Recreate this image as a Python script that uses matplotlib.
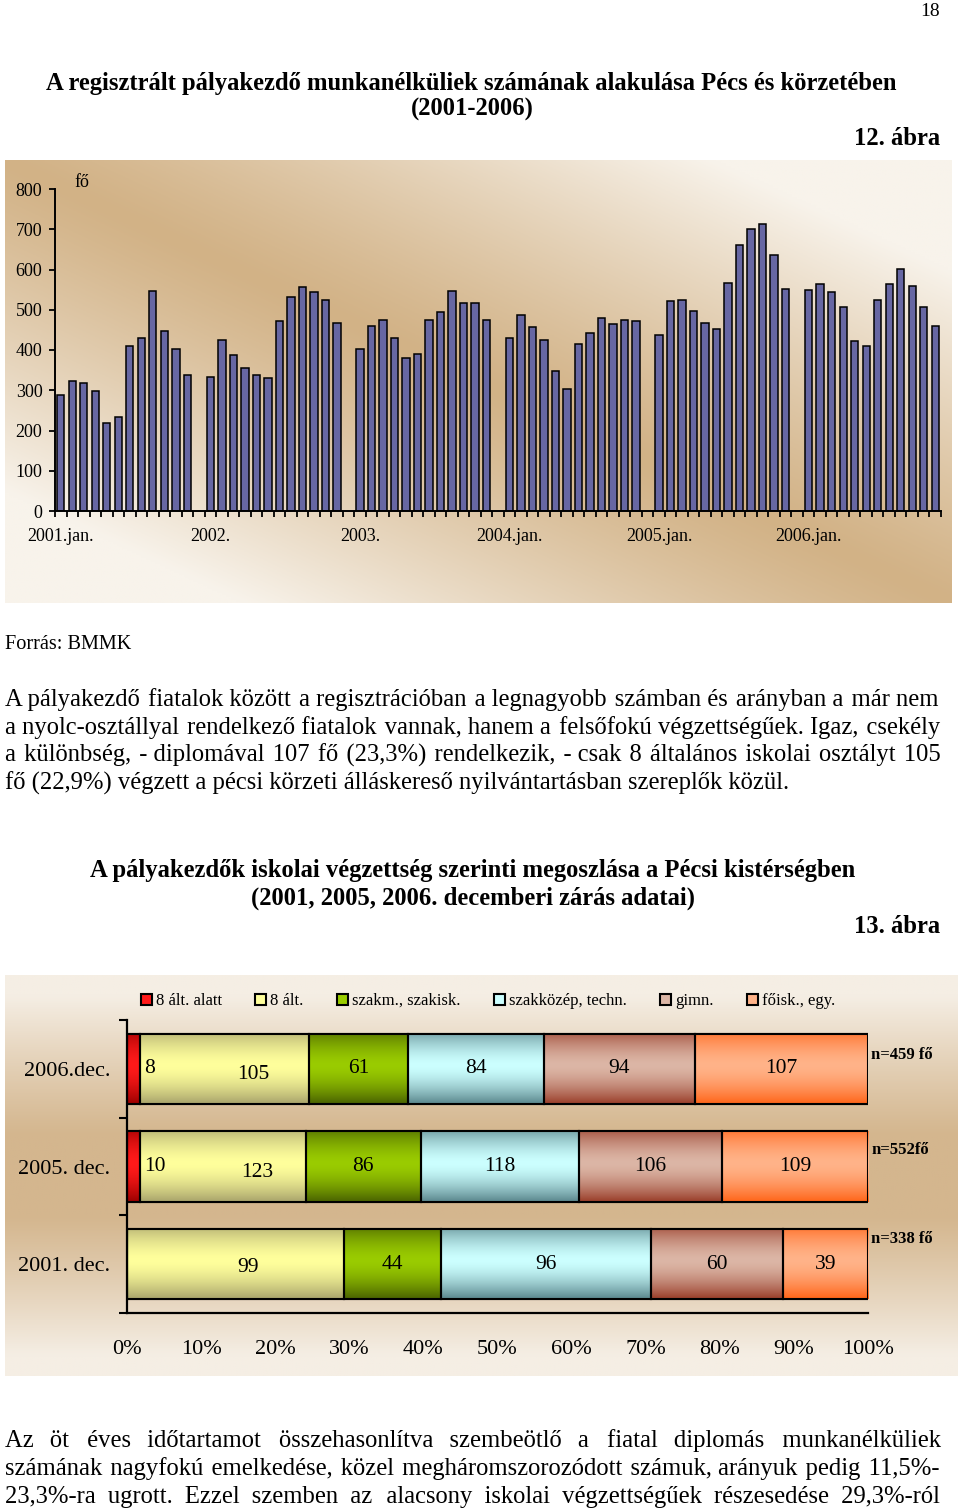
import numpy as np
import matplotlib
matplotlib.use('Agg')
import matplotlib.pyplot as plt
from matplotlib.colors import to_rgb

W, H = 960, 1510
plt.rcParams['font.family'] = ['Liberation Serif', 'DejaVu Serif']

# 12. abra - registered young unemployed per month (fo)
v2001 = [287, 322, 318, 299, 219, 234, 410, 429, 547, 448, 402, 338]
v2002 = [334, 425, 387, 356, 337, 330, 471, 532, 556, 544, 524, 467]
v2003 = [402, 460, 475, 429, 379, 391, 475, 494, 547, 517, 517, 474]
v2004 = [429, 487, 456, 425, 349, 302, 414, 441, 479, 464, 475, 471]
v2005 = [437, 521, 524, 498, 467, 452, 567, 662, 701, 713, 636, 552]
v2006 = [548, 563, 544, 506, 422, 410, 524, 563, 602, 559, 506, 459]
monthly = [v2001, v2002, v2003, v2004, v2005, v2006]
year_labels = ['2001.jan.', '2002.', '2003.', '2004.jan.', '2005.jan.', '2006.jan.']
y_ticks = list(range(0, 801, 100))

# 13. abra - education level of young job seekers (december)
rows = ['2006.dec.', '2005. dec.', '2001. dec.']
groups = ['8 ált. alatt', '8 ált.', 'szakm., szakisk.', 'szakközép, techn.', 'gimn.', 'főisk., egy.']
alatt8 = [8, 10, 0]
alt8 = [105, 123, 99]
szakm = [61, 86, 44]
szakkozep = [84, 118, 96]
gimn = [94, 106, 60]
foisk = [107, 109, 39]
n_labels = ['n=459 fő', 'n=552fő', 'n=338 fő']
pct_ticks = list(range(0, 101, 10))

light = ['#ff1a1a', '#ffff9c', '#9acc00', '#ccffff', '#dcb6a6', '#ffb389']
dark = ['#9c0000', '#a9a46c', '#4a6300', '#5b878d', '#9a3e2a', '#ff6519']

par1 = ["A pályakezdő fiatalok között a regisztrációban a legnagyobb számban és arányban a már nem",
        "a nyolc-osztállyal rendelkező fiatalok vannak, hanem a felsőfokú végzettségűek. Igaz, csekély",
        "a különbség, - diplomával 107 fő (23,3%) rendelkezik, - csak 8 általános iskolai  osztályt 105",
        "fő (22,9%) végzett a pécsi körzeti álláskereső nyilvántartásban szereplők közül."]
par2 = ["Az öt éves időtartamot összehasonlítva szembeötlő a fiatal diplomás munkanélküliek",
        "számának nagyfokú emelkedése, közel megháromszorozódott számuk, arányuk pedig 11,5%-",
        "23,3%-ra ugrott. Ezzel szemben az alacsony iskolai végzettségűek részesedése 29,3%-ról"]

fig = plt.figure(figsize=(W / 100, H / 100), dpi=100)
fig.patch.set_facecolor('white')
renderer = fig.canvas.get_renderer()


def box(l, t, r, b):
    return [l / W, 1 - b / H, (r - l) / W, (b - t) / H]


def put(x, y, s, **kw):
    return fig.text(x / W, 1 - y / H, s, **kw)


def width_of(s, **kw):
    t = fig.text(0, 0, s, **kw)
    w = t.get_window_extent(renderer).width
    t.remove()
    return w


def fit_size(s, target, **kw):
    return 10 * target / width_of(s, fontsize=10, **kw)


def justify(y, line, fs, x0=5, x1=940, last=False):
    # one text per line; the gaps are widened with hair spaces
    words = line.split()
    if last:
        put(x0, y, ' '.join(words), fontsize=fs, va='baseline')
        return
    hair = '\u200a'
    sp = width_of('a a', fontsize=fs) - width_of('aa', fontsize=fs)
    hs = (width_of('a' + hair * 20 + 'a', fontsize=fs) - width_of('aa', fontsize=fs)) / 20
    gap = (x1 - x0 - width_of(''.join(words), fontsize=fs)) / (len(words) - 1)
    s, acc = words[0], 0.0
    for w in words[1:]:
        acc += gap - sp
        k = max(0, int(round(acc / hs)))
        acc -= k * hs
        s += ' ' + hair * k + w
    put(x0, y, s, fontsize=fs, va='baseline')


def mix(c0, c1, g):
    c0 = np.array(to_rgb(c0))
    c1 = np.array(to_rgb(c1))
    return np.clip(c0 + (c1 - c0) * g[..., None], 0, 1)


# ---- texts
put(940, 16, '18', ha='right', va='baseline', fontsize=14)
t1 = "A regisztrált pályakezdő munkanélküliek számának alakulása Pécs és körzetében"
fs_t = fit_size(t1, 857, fontweight='bold')
put(471, 90, t1, ha='center', va='baseline', fontsize=fs_t, fontweight='bold')
put(472, 116, '(2001-2006)', ha='center', va='baseline', fontsize=fs_t, fontweight='bold')
put(940, 145, '12. ábra', ha='right', va='baseline', fontsize=fs_t, fontweight='bold')

fs_b = fit_size(par1[-1], 787)
put(5, 649, 'Forrás: BMMK', va='baseline', fontsize=fit_size('Forrás: BMMK', 127))
for i, line in enumerate(par1):
    justify(706 + 28 * i, line, fs_b, last=(i == len(par1) - 1))

t2 = "A pályakezdők iskolai végzettség szerinti megoszlása a Pécsi kistérségben"
fs_t2 = fit_size(t2, 770, fontweight='bold')
put(473, 877, t2, ha='center', va='baseline', fontsize=fs_t2, fontweight='bold')
put(473, 905, '(2001, 2005, 2006. decemberi zárás adatai)', ha='center', va='baseline',
    fontsize=fs_t2, fontweight='bold')
put(940, 933, '13. ábra', ha='right', va='baseline', fontsize=fs_t2, fontweight='bold')

for i, line in enumerate(par2):
    justify(1447 + 28 * i, line, fs_b)

# ---- chart 1 background
bg1 = fig.add_axes(box(5, 160, 951, 603), zorder=0)
xn, yn = np.meshgrid(np.linspace(0, 1, 400), np.linspace(0, 1, 200))
g = np.clip(np.abs(xn - yn) / 0.75, 0, 1) ** 1.2
bg1.imshow(mix('#d2b286', '#f8f3eb', g), aspect='auto', extent=(0, 1, 0, 1))
bg1.axis('off')

ax1 = fig.add_axes(box(55, 189, 941, 511), zorder=2)
ax1.patch.set_alpha(0)
for i, vals in enumerate(monthly):
    xs = np.arange(len(vals)) + 13 * i
    ax1.bar(xs, vals, width=0.64, color='#6767a3', edgecolor='black', linewidth=1.1)
ax1.set_xlim(-0.5, 76.5)
ax1.set_ylim(0, 800)
ax1.set_yticks(y_ticks)
ax1.set_xticks([13 * i for i in range(len(year_labels))], year_labels)
ax1.set_xticks(np.arange(-0.5, 77, 1), minor=True)
ax1.tick_params(axis='x', which='major', length=0, pad=12, labelsize=13)
ax1.tick_params(axis='x', which='minor', length=4, width=1.3)
ax1.tick_params(axis='y', length=4, width=1.3, pad=5, labelsize=13)
for s in ['top', 'right']:
    ax1.spines[s].set_visible(False)
for s in ['left', 'bottom']:
    ax1.spines[s].set_linewidth(1.4)
put(74, 187, 'fő', va='baseline', fontsize=13)

# ---- chart 2 background
bg2 = fig.add_axes(box(5, 975, 957, 1376), zorder=0)
xn, yn = np.meshgrid(np.linspace(0, 1, 400), np.linspace(0, 1, 200))
g = np.clip((np.abs(yn - 0.5) - 0.1) / 0.35, 0, 1) ** 1.1
bg2.imshow(mix('#d4b68e', '#f5eee4', g), aspect='auto', extent=(0, 1, 0, 1))
bg2.axis('off')

ax2 = fig.add_axes(box(127, 1020, 868, 1313), zorder=2)
ax2.patch.set_alpha(0)
counts = np.array([alatt8, alt8, szakm, szakkozep, gimn, foisk], float)
pct = counts / counts.sum(axis=0) * 100
yy = np.arange(len(rows))
hgt = 0.72
tt = np.linspace(0, 1, 64)
prof = 1 - np.clip(np.abs(tt - 0.45) / 0.55, 0, 1) ** 1.6
alt8_shift = [(29, 6), (34, 6), (12, 3)]
n_dy = [21, 19, 10]

left = np.zeros(len(rows))
for k in range(len(groups)):
    ax2.barh(yy, pct[k], left=left, height=hgt, color=light[k], edgecolor='black',
             linewidth=1.5, label=groups[k], zorder=1)
    img = mix(dark[k], light[k], prof)[:, None, :].repeat(4, axis=1)
    for j in range(len(rows)):
        if pct[k, j] <= 0:
            continue
        ax2.imshow(img, extent=(left[j], left[j] + pct[k, j], yy[j] + hgt / 2, yy[j] - hgt / 2),
                   aspect='auto', interpolation='bilinear', zorder=2)
        val = int(counts[k, j])
        if pct[k, j] < 4:
            ax2.annotate(str(val), xy=(left[j] + pct[k, j], yy[j]), xytext=(4, 0),
                         textcoords='offset pixels', ha='left', va='center', fontsize=15.5, zorder=4)
        else:
            dx, dy = alt8_shift[j] if k == 1 else (0, 0)
            ax2.annotate(str(val), xy=(left[j] + pct[k, j] / 2, yy[j]), xytext=(dx, -dy),
                         textcoords='offset pixels', ha='center', va='center', fontsize=15.5, zorder=4)
    ax2.barh(yy, pct[k], left=left, height=hgt, facecolor='none', edgecolor='black',
             linewidth=1.5, zorder=3)
    left += pct[k]

for j in range(len(rows)):
    ax2.annotate(n_labels[j], xy=(100, yy[j] - hgt / 2), xytext=(3, -n_dy[j]),
                 textcoords='offset pixels', ha='left', va='center', fontsize=12,
                 fontweight='bold', annotation_clip=False)

ax2.set_xlim(0, 100)
ax2.set_ylim(2.5, -0.5)
ax2.set_xticks(pct_ticks, [f'{p}%' for p in pct_ticks])
ax2.set_yticks(yy, rows)
ax2.set_yticks([-0.5, 0.5, 1.5, 2.5], minor=True)
ax2.tick_params(axis='x', length=0, pad=19.5, labelsize=16)
ax2.tick_params(axis='y', which='major', length=0, pad=12, labelsize=16)
ax2.tick_params(axis='y', which='minor', length=6, width=1.5)
for s in ['top', 'right']:
    ax2.spines[s].set_visible(False)
for s in ['left', 'bottom']:
    ax2.spines[s].set_linewidth(1.6)
ax2.legend(loc='center', bbox_to_anchor=(488 / W, 1 - 1001 / H), bbox_transform=fig.transFigure,
           ncol=6, frameon=False, fontsize=12, handlelength=0.65, handleheight=0.65,
           handletextpad=0.25, columnspacing=2.0, borderaxespad=0)

fig.savefig('out.png', dpi=100)
